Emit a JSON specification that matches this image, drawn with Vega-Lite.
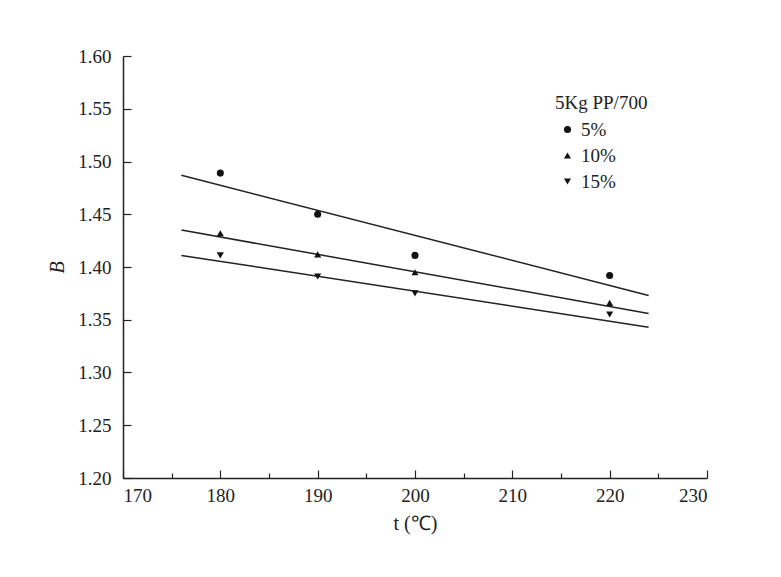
{
  "$schema": "https://vega.github.io/schema/vega-lite/v6.json",
  "autosize": "none",
  "width": 584,
  "height": 422,
  "padding": {"left": 123, "top": 56, "right": 74, "bottom": 99},
  "background": "white",
  "config": {
    "view": {"stroke": null},
    "font": "Liberation Serif",
    "axis": {
      "domainColor": "#222",
      "domainWidth": 1.5,
      "tickColor": "#222",
      "tickWidth": 1.2,
      "labelFont": "Liberation Serif",
      "labelFontSize": 19,
      "labelColor": "#222",
      "titleFont": "Liberation Serif",
      "titleFontSize": 20,
      "titleColor": "#222",
      "titleFontWeight": "normal",
      "grid": false
    }
  },
  "datasets": {
    "points": [
      {"t": 180, "B": 1.489, "series": "5%"},
      {"t": 190, "B": 1.450, "series": "5%"},
      {"t": 200, "B": 1.411, "series": "5%"},
      {"t": 220, "B": 1.392, "series": "5%"},
      {"t": 180, "B": 1.432, "series": "10%"},
      {"t": 190, "B": 1.412, "series": "10%"},
      {"t": 200, "B": 1.395, "series": "10%"},
      {"t": 220, "B": 1.366, "series": "10%"},
      {"t": 180, "B": 1.411, "series": "15%"},
      {"t": 190, "B": 1.391, "series": "15%"},
      {"t": 200, "B": 1.375, "series": "15%"},
      {"t": 220, "B": 1.355, "series": "15%"}
    ],
    "fits": [
      {"t": 176, "B": 1.487, "series": "5%"},
      {"t": 224, "B": 1.373, "series": "5%"},
      {"t": 176, "B": 1.435, "series": "10%"},
      {"t": 224, "B": 1.356, "series": "10%"},
      {"t": 176, "B": 1.411, "series": "15%"},
      {"t": 224, "B": 1.343, "series": "15%"}
    ]
  },
  "layer": [
    {
      "data": {"name": "fits"},
      "mark": {"type": "line", "color": "#222", "strokeWidth": 1.5},
      "encoding": {
        "x": {"field": "t", "type": "quantitative"},
        "y": {"field": "B", "type": "quantitative"},
        "detail": {"field": "series"}
      }
    },
    {
      "data": {"name": "points"},
      "mark": {"type": "point", "filled": true, "color": "#111", "opacity": 1, "size": 50},
      "encoding": {
        "x": {
          "field": "t",
          "type": "quantitative",
          "scale": {"domain": [170, 230], "nice": false, "zero": false},
          "axis": {
            "title": "t (℃)",
            "titlePadding": 8,
            "values": [170, 175, 180, 185, 190, 195, 200, 205, 210, 215, 220, 225, 230],
            "labelExpr": "datum.value % 10 === 0 ? datum.label : ''",
            "tickSize": {"expr": "datum.value % 10 === 0 ? -8 : -5"},
            "labelPadding": 16
          }
        },
        "y": {
          "field": "B",
          "type": "quantitative",
          "scale": {"domain": [1.2, 1.6], "nice": false, "zero": false},
          "axis": {
            "title": "B",
            "titleFontStyle": "italic",
            "titlePadding": 10,
            "values": [1.2, 1.225, 1.25, 1.275, 1.3, 1.325, 1.35, 1.375, 1.4, 1.425, 1.45, 1.475, 1.5, 1.525, 1.55, 1.575, 1.6],
            "labelExpr": "abs(round(datum.value * 1000) % 50) < 1 ? format(datum.value, '.2f') : ''",
            "tickSize": {"expr": "abs(round(datum.value * 1000) % 50) < 1 ? -8 : -6"},
            "labelPadding": 20
          }
        },
        "shape": {
          "field": "series",
          "type": "nominal",
          "scale": {"domain": ["5%", "10%", "15%"], "range": ["circle", "triangle-up", "triangle-down"]},
          "legend": {
            "title": "5Kg  PP/700",
            "orient": "none",
            "legendX": 432,
            "legendY": 38,
            "titleFont": "Liberation Serif",
            "titleFontSize": 19,
            "titleFontWeight": "normal",
            "titleColor": "#222",
            "titlePadding": 7,
            "labelFont": "Liberation Serif",
            "labelFontSize": 19,
            "labelColor": "#222",
            "symbolSize": 50,
            "symbolFillColor": "#111",
            "symbolStrokeColor": "#111",
            "symbolOffset": 3,
            "rowPadding": 6
          }
        }
      }
    }
  ]
}
